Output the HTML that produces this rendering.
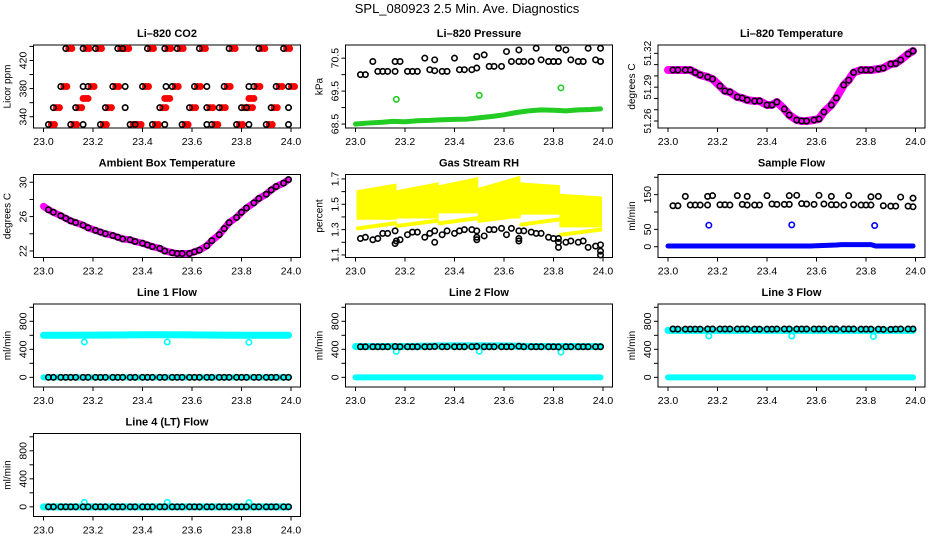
<!DOCTYPE html>
<html><head><meta charset="utf-8"><style>
html,body{margin:0;padding:0;background:#fff;}
svg{display:block;font-family:"Liberation Sans",Arial,sans-serif;}
</style></head><body>
<svg id="chart" width="936" height="540" viewBox="0 0 936 540" xmlns="http://www.w3.org/2000/svg">
<text x="467" y="13" font-size="13" text-anchor="middle">SPL_080923  2.5 Min. Ave. Diagnostics</text>
</svg>
<script>
// ---- shared time axis for black points ----
const times = [23.02,23.04,23.07,23.09,23.11,23.13,23.16,23.18,23.21,23.23,23.25,23.28,23.30,23.32,23.35,23.37,23.40,23.42,23.44,23.47,23.49,23.52,23.54,23.56,23.59,23.61,23.63,23.66,23.68,23.71,23.73,23.75,23.78,23.80,23.82,23.85,23.87,23.90,23.92,23.94,23.97,23.99];
const xTicks = [23.0,23.2,23.4,23.6,23.8,24.0];
const xTickLabels = ['23.0','23.2','23.4','23.6','23.8','24.0'];

// CO2
const co2Black = [329,353,383,437,329,353,437,383,437,329,353,383,437,437,329,329,383,437,329,353,437,383,437,329,353,383,437,353,329,353,383,437,329,353,353,383,437,329,353,383,437,383];
const co2ExtraT = [23.16,23.16,23.33,23.33,23.495,23.49,23.66,23.66,23.83,23.83,23.99,23.99];
const co2ExtraV = [383,329,353,383,383,329,383,329,383,329,353,329];
const co2RedMidT = [23.16,23.17,23.18,23.49,23.50,23.51,23.83,23.84,23.85];
const co2RedMidV = [366,366,366,366,366,366,366,366,366];
// Pressure
const presBlack = [70.0,70.0,70.4,70.1,70.1,70.1,70.1,70.4,70.1,70.1,70.1,70.5,70.15,70.45,70.1,70.1,70.5,70.15,70.15,70.15,70.2,70.6,70.25,70.25,70.25,70.7,70.4,70.75,70.4,70.4,70.8,70.45,70.4,70.4,70.8,70.75,70.45,70.4,70.4,70.8,70.45,70.8];
const presExtraT = [23.16,23.32,23.49,23.66,23.82,23.99];
const presExtraV = [70.4,70.12,70.55,70.4,70.4,70.4];
const presGreenT = [23.0,23.05,23.1,23.15,23.2,23.25,23.3,23.35,23.4,23.45,23.5,23.55,23.6,23.65,23.7,23.75,23.8,23.85,23.9,23.95,23.99];
const presGreenV = [68.5,68.53,68.55,68.58,68.57,68.6,68.61,68.63,68.64,68.65,68.69,68.73,68.78,68.85,68.9,68.93,68.92,68.9,68.93,68.94,68.96];
const presOutT = [23.165,23.5,23.83];
const presOutV = [69.25,69.37,69.6];
// Li-820 temperature
const tempBlack = [51.3052,51.3052,51.3052,51.3052,51.3030,51.3008,51.2990,51.2972,51.2910,51.2866,51.2857,51.2813,51.2804,51.2786,51.2777,51.2777,51.2742,51.2742,51.2768,51.2706,51.2653,51.2609,51.2600,51.2600,51.2609,51.2618,51.2680,51.2742,51.2804,51.2919,51.2963,51.3030,51.3052,51.3052,51.3052,51.3061,51.3070,51.3105,51.3110,51.3141,51.3194,51.3221];
// Ambient box temperature
const ambBlack = [26.8,26.5,26.1,25.8,25.5,25.3,25.0,24.7,24.4,24.2,24.0,23.8,23.6,23.4,23.3,23.1,22.9,22.7,22.5,22.3,22.0,21.8,21.7,21.7,21.7,21.9,22.1,22.6,23.2,23.9,24.6,25.3,25.9,26.5,27.0,27.6,28.1,28.6,29.1,29.5,29.9,30.3];
const ambStartT = [23.0];
const ambStartV = [27.2];
// Gas stream RH
const rhBlack = [1.23,1.24,1.22,1.23,1.27,1.27,1.29,1.22,1.26,1.28,1.28,1.24,1.27,1.29,1.26,1.29,1.27,1.29,1.30,1.30,1.29,1.25,1.30,1.30,1.31,1.26,1.31,1.29,1.29,1.28,1.27,1.27,1.24,1.23,1.23,1.20,1.21,1.20,1.21,1.16,1.17,1.18];
const rhExtraT = [23.16,23.165,23.32,23.49,23.49,23.66,23.66,23.82,23.82,23.99,23.99];
const rhExtraV = [1.19,1.21,1.20,1.22,1.24,1.21,1.23,1.16,1.20,1.10,1.13];
const rhSegStart = [23.01,23.17,23.34,23.50,23.67,23.83];
const rhSegEnd = [23.16,23.33,23.49,23.66,23.82,23.99];
const rhSegLow = [1.39,1.40,1.44,1.40,1.43,1.33];
const rhSegTopStart = [1.60,1.60,1.64,1.62,1.66,1.57];
const rhSegTopEnd = [1.65,1.66,1.70,1.71,1.64,1.55];
const rhSegFloor = [1.31,1.33,1.35,1.37,1.34,1.26];
// Sample flow
const sfBlack = [118,118,145,120,120,120,120,147,121,121,120,147,122,120,120,120,147,123,122,122,122,148,124,123,122,148,123,121,121,120,147,121,120,120,120,145,118,117,117,143,117,115];
const sfExtraT = [23.16,23.32,23.49,23.66,23.82,23.99];
const sfExtraV = [145,145,147,145,144,140];
const sfBlueT = [23.0,23.2,23.4,23.58,23.6,23.68,23.7,23.82,23.84,23.99];
const sfBlueV = [2,2,2,2,3,5,6,6,2,2];
const sfOutT = [23.165,23.5,23.835];
const sfOutV = [62,63,61];
// Line flows
const bandT = [23.0,23.1,23.2,23.3,23.4,23.5,23.6,23.7,23.8,23.9,23.99];
const line1Band = [600,600,602,605,608,608,606,602,600,600,600];
const line2Band = [440,440,440,445,450,450,448,440,440,440,440];
const line3Band = [670,670,670,670,670,670,670,670,670,670,670];
const zeroBand = [0,0,0,0,0,0,0,0,0,0,0];
const line4Band = [0,0,0,0,0,0,0,0,0,0,0];
const line1Black = [0,0,0,0,0,0,0,0,0,0,0,0,0,0,0,0,0,0,0,0,0,0,0,0,0,0,0,0,0,0,0,0,0,0,0,0,0,0,0,0,0,0];
const line2Black = [437,437,437,437,437,437,440,437,437,437,437,437,437,440,437,437,437,437,437,437,440,437,437,437,437,437,437,443,437,437,437,437,437,437,434,437,437,437,437,437,437,437];
const line3Black = [690,688,688,688,688,688,690,690,690,690,690,690,690,690,688,688,688,688,690,690,690,690,690,690,690,690,690,690,690,690,690,690,688,688,688,688,685,685,688,690,690,690];
const line4Black = [0,0,0,0,0,0,0,0,0,0,0,0,0,0,0,0,0,0,0,0,0,0,0,0,0,0,0,0,0,0,0,0,0,0,0,0,0,0,0,0,0,0];
const outT = [23.165,23.5,23.83];
const line1Out = [505,505,500];
const line2Out = [370,372,360];
const line3Out = [590,590,585];
const line4Out = [63,63,60];

const NS = 'http://www.w3.org/2000/svg';
const svg = document.getElementById('chart');
function el(tag, attrs, parent){
  const e = document.createElementNS(NS, tag);
  for (const k in attrs) e.setAttribute(k, attrs[k]);
  (parent||svg).appendChild(e);
  return e;
}
const colLeft = [33.5,345.5,658];
const rowTop = [45,174.5,304,433.5];
const W = 267, H = 83;

function panel(name, col, row, title, ylab, ylim, ticks, labels, labelSize){
  const L = colLeft[col], T = rowTop[row];
  const g = el('g', {});
  
  
  const sx = t => L + 10 + (t - 23) * 247.5;
  const sy = v => T + H - (v - ylim[0]) / (ylim[1] - ylim[0]) * H;
  const tt = el('text', {x: L + W/2, y: T - 8, 'font-size': 11, 'font-weight': 'bold', 'text-anchor': 'middle'}, g);
  
  
  tt.textContent = title;
  const box = el('rect', {x: L, y: T, width: W, height: H, fill: 'none', stroke: '#000', 'stroke-width': 1}, g);
  
  
  const yl = el('text', {x: 0, y: 0, 'font-size': 10, 'text-anchor': 'middle', transform: `translate(${L-23},${T+H/2}) rotate(-90)`}, g);
  
  
  yl.textContent = ylab;
  ticks.forEach((v, i) => {
    const y = sy(v);
    el('line', {x1: L - 4, x2: L, y1: y, y2: y, stroke: '#000'}, g);
    if (labels[i]) {
      const tl = el('text', {x: 0, y: 0, 'font-size': labelSize || 10.5, 'text-anchor': 'middle', transform: `translate(${L-7},${y}) rotate(-90)`}, g);
      
      
      tl.textContent = labels[i];
    }
  });
  xTicks.forEach((t, i) => {
    const x = sx(t);
    el('line', {x1: x, x2: x, y1: T + H, y2: T + H + 4, stroke: '#000'}, g);
    const xl = el('text', {x: x, y: T + H + 17, 'font-size': 10.5, 'text-anchor': 'middle'}, g);
    
    
    xl.textContent = xTickLabels[i];
  });
  return {g, sx, sy};
}
function circles(p, ts, vs, color, name, opts){
  opts = opts || {};
  ts.forEach((t, i) => {
    const c = el('circle', {cx: p.sx(t) + (opts.dx||0), cy: p.sy(vs[i]), r: opts.r || 2.7,
      fill: opts.fill || 'none', stroke: color, 'stroke-width': opts.sw || 1.6}, p.g);
    
    
  });
}
function band(p, ts, vs, color, width, name){
  const pts = ts.map((t, i) => p.sx(t) + ',' + p.sy(vs[i])).join(' ');
  const l = el('polyline', {points: pts, fill: 'none', stroke: color, 'stroke-width': width, 'stroke-linecap': 'round', 'stroke-linejoin': 'round'}, p.g);
  
  
}

// Panel 1: CO2
let p = panel('co2-panel', 0, 0, 'Li\u2013820 CO2', 'Licor ppm', [324, 442], [340,360,380,400,420,440], ['340','','380','','420','']);
circles(p, times, co2Black, '#ff0000', 'co2-red-point', {fill: '#ff0000', dx: 3, r: 3, sw: 1});
circles(p, times, co2Black, '#ff0000', 'co2-red-point', {fill: '#ff0000', dx: 6, r: 3, sw: 1});
circles(p, co2RedMidT, co2RedMidV, '#ff0000', 'co2-red-mid-point', {fill: '#ff0000', r: 3, sw: 1});
circles(p, times, co2Black, '#000', 'co2-point');
circles(p, co2ExtraT, co2ExtraV, '#000', 'co2-point');

// Panel 2: Pressure
p = panel('pressure-panel', 1, 0, 'Li\u2013820 Pressure', 'kPa', [68.38, 70.9], [68.5,69,69.5,70,70.5], ['68.5','','69.5','','70.5']);
band(p, presGreenT, presGreenV, '#22cc22', 5, 'pressure-green-band');
circles(p, presOutT, presOutV, '#22cc22', 'pressure-green-outlier');
circles(p, times, presBlack, '#000', 'pressure-point');
circles(p, presExtraT, presExtraV, '#000', 'pressure-point');

// Panel 3: Li-820 temperature
p = panel('li820-temperature-panel', 2, 0, 'Li\u2013820 Temperature', 'degrees C', [51.2538, 51.3274], [51.26,51.27,51.28,51.29,51.30,51.31,51.32], ['51.26','','','51.29','','','51.32'], 10);
band(p, [23.0].concat(times), [51.3052].concat(tempBlack), '#ff00ff', 8, 'li820-temperature-magenta-band');
circles(p, times, tempBlack, '#000', 'li820-temperature-point');

// Panel 4: Ambient
p = panel('ambient-temperature-panel', 0, 1, 'Ambient Box Temperature', 'degrees C', [21.24, 30.9], [22,24,26,28,30], ['22','','26','','30']);
band(p, ambStartT.concat(times), ambStartV.concat(ambBlack), '#ff00ff', 7, 'ambient-magenta-band');
circles(p, times, ambBlack, '#000', 'ambient-temperature-point');

// Panel 5: RH
p = panel('gas-stream-rh-panel', 1, 1, 'Gas Stream RH', 'percent', [1.08, 1.735], [1.1,1.2,1.3,1.4,1.5,1.6,1.7], ['1.1','','1.3','','1.5','','1.7']);
rhSegStart.forEach((s, i) => {
  const e = rhSegEnd[i];
  const pts = [[s, rhSegLow[i]],[s, rhSegTopStart[i]],[e, rhSegTopEnd[i]],[e, rhSegLow[i]]].map(q => p.sx(q[0]) + ',' + p.sy(q[1])).join(' ');
  const poly = el('polygon', {points: pts, fill: '#ffff00', stroke: '#ffff00', 'stroke-width': 3}, p.g);
  
  
  band(p, [s, e], [rhSegFloor[i], rhSegFloor[i] + 0.04], '#ffff00', 4, 'rh-yellow-lower');
});
circles(p, times, rhBlack, '#000', 'rh-point');
circles(p, rhExtraT, rhExtraV, '#000', 'rh-point');

// Panel 6: Sample flow
p = panel('sample-flow-panel', 2, 1, 'Sample Flow', 'ml/min', [-31, 208], [0,50,100,150,200], ['0','50','','150','']);
band(p, sfBlueT, sfBlueV, '#0000ff', 5, 'sample-flow-blue-band');
circles(p, sfOutT, sfOutV, '#0000ff', 'sample-flow-blue-outlier');
circles(p, times, sfBlack, '#000', 'sample-flow-point');
circles(p, sfExtraT, sfExtraV, '#000', 'sample-flow-point');

// Line flows
const lineTicks = [0,200,400,600,800,1000];
const lineLabels = ['0','','400','','800',''];
const lineYlim = [-138, 1047];
function linePanel(name, col, row, title, bandV, out, black){
  const q = panel(name, col, row, title, 'ml/min', lineYlim, lineTicks, lineLabels);
  band(q, bandT, zeroBand, '#00ffff', 6, name + '-cyan-zero-band');
  band(q, bandT, bandV, '#00ffff', 7, name + '-cyan-band');
  circles(q, outT, out, '#00ffff', name + '-cyan-outlier');
  circles(q, times, black, '#000', name + '-point');
}
linePanel('line1-flow-panel', 0, 2, 'Line 1 Flow', line1Band, line1Out, line1Black);
linePanel('line2-flow-panel', 1, 2, 'Line 2 Flow', line2Band, line2Out, line2Black);
linePanel('line3-flow-panel', 2, 2, 'Line 3 Flow', line3Band, line3Out, line3Black);
linePanel('line4-flow-panel', 0, 3, 'Line 4 (LT) Flow', line4Band, line4Out, line4Black);
</script>
</body></html>
